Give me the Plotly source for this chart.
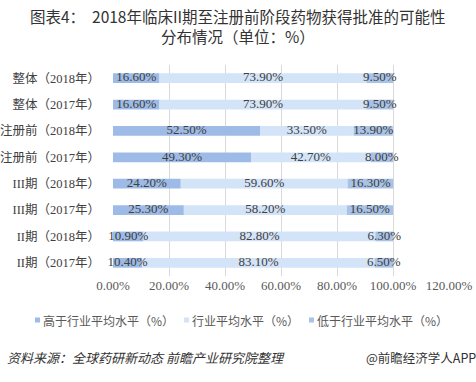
import plotly.graph_objects as go

categories = ["整体（2018年）", "整体（2017年）", "注册前（2018年）", "注册前（2017年）",
              "III期（2018年）", "III期（2017年）", "II期（2018年）", "II期（2017年）"]
above = [16.6, 16.6, 52.5, 49.3, 24.2, 25.3, 10.9, 10.4]
average = [73.9, 73.9, 33.5, 42.7, 59.6, 58.2, 82.8, 83.1]
below = [9.5, 9.5, 13.9, 8.0, 16.3, 16.5, 6.3, 6.5]
series_names = ["高于行业平均水平（%）", "行业平均水平（%）", "低于行业平均水平（%）"]
tick_vals = [0, 20, 40, 60, 80, 100, 120]
tick_text = ["0.00%", "20.00%", "40.00%", "60.00%", "80.00%", "100.00%", "120.00%"]

colors = ["#9dbbe6", "#d3e3f8", "#a9c3e7"]
serif = "Liberation Serif, Noto Sans CJK SC"
cjk = "Noto Sans CJK SC, Liberation Sans"
label_font = dict(family=serif, size=13, color="#404040")

W, H = 476, 382
ML, MR, MT, MB = 113, 27, 65, 106
PW, PH = W - ML - MR, H - MT - MB

fig = go.Figure()
series = [above, average, below]
base = [0.0] * len(categories)
for name, vals, col in zip(series_names, series, colors):
    fig.add_trace(go.Bar(y=categories, x=vals, base=base, orientation="h", name=name,
                         marker=dict(color=col, line=dict(width=0)),
                         showlegend=False, hoverinfo="skip"))
    base = [b + v for b, v in zip(base, vals)]

base = [0.0] * len(categories)
for vals in series:
    centers = [b + v / 2 for b, v in zip(base, vals)]
    fig.add_trace(go.Scatter(y=categories, x=centers, mode="text",
                             text=[f"{v:.2f}%" for v in vals], cliponaxis=False,
                             textfont=label_font, showlegend=False, hoverinfo="skip"))
    base = [b + v for b, v in zip(base, vals)]

fig.update_layout(
    width=W, height=H,
    margin=dict(l=ML, r=MR, t=MT, b=MB, autoexpand=False),
    paper_bgcolor="white", plot_bgcolor="white",
    barmode="overlay", bargap=0.63, showlegend=False,
    xaxis=dict(range=[0, 120], tickvals=tick_vals, ticktext=tick_text,
               showgrid=True, gridcolor="#d9d9d9", gridwidth=1, zeroline=False,
               showline=False, ticks="", automargin=False,
               tickfont=dict(family=serif, size=13, color="#595959")),
    yaxis=dict(categoryorder="array", categoryarray=categories, autorange="reversed",
               showgrid=False, ticks="", ticklabelstandoff=12, automargin=False,
               tickfont=dict(family=serif, size=12.5, color="#404040")),
)

# legend drawn manually (single row, as in reference)
legend_x = [35, 184, 309]
legend_y = 320
for name, col, lx in zip(series_names, colors, legend_x):
    fig.add_shape(type="rect", xref="paper", yref="paper",
                  x0=(lx - ML) / PW, x1=(lx + 5 - ML) / PW,
                  y0=(MT + PH - legend_y - 2.5) / PH, y1=(MT + PH - legend_y + 2.5) / PH,
                  fillcolor=col, line=dict(width=0))
    fig.add_annotation(text=name, xref="paper", yref="paper",
                       x=(lx + 6 - ML) / PW, xanchor="left",
                       y=(MT + PH - legend_y) / PH, yanchor="middle", showarrow=False,
                       font=dict(family=cjk, size=12, color="#595959"))

fig.add_annotation(text="图表4：  2018年临床II期至注册前阶段药物获得批准的可能性<br>分布情况（单位：%）",
                   xref="paper", yref="paper", x=(238 - ML) / PW, xanchor="center",
                   y=1 + (MT - 3) / PH, yanchor="top", showarrow=False,
                   font=dict(family=cjk, size=15.5, color="#333333"))
fig.add_annotation(text="<i>资料来源：全球药研新动态 前瞻产业研究院整理</i>", xref="paper", yref="paper",
                   x=-ML / PW, xanchor="left", y=(MT + PH - 357) / PH, yanchor="middle",
                   showarrow=False, xshift=5, font=dict(family=cjk, size=13, color="#333333"))
fig.add_annotation(text="@前瞻经济学人APP", xref="paper", yref="paper",
                   x=1 + MR / PW, xanchor="right", y=(MT + PH - 357) / PH, yanchor="middle",
                   showarrow=False, xshift=2, font=dict(family=cjk, size=12.5, color="#333333"))

fig.write_html("out.html")
